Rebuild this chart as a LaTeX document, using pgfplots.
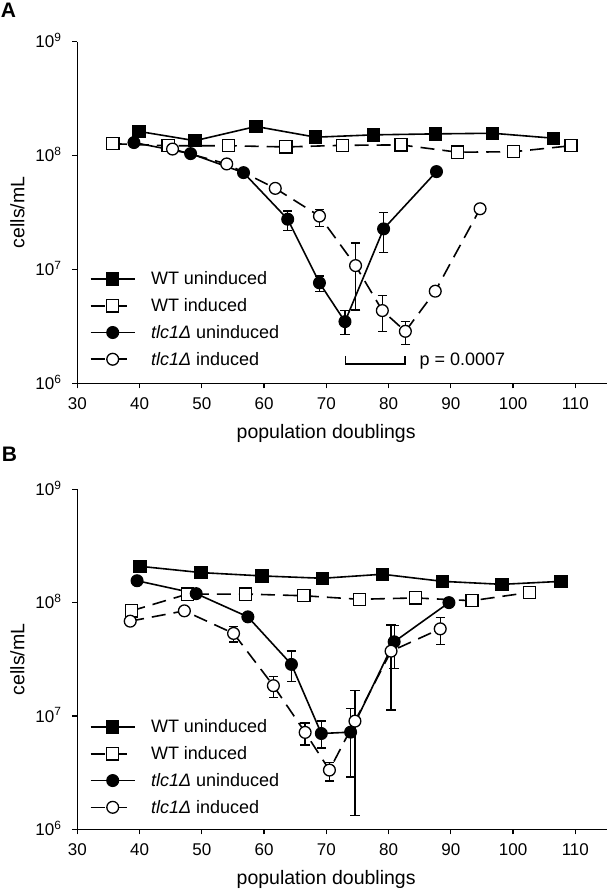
\documentclass[border=0pt]{standalone}
\usepackage{fontspec}
\setmainfont{Liberation Sans}
\usepackage{pgfplots}
\pgfplotsset{compat=1.18}
\newcommand\tickfont{\fontsize{17}{20}\selectfont}
\newcommand\labfont{\fontsize{19.5}{22}\selectfont}
\newcommand\legfont{\fontsize{18}{21}\selectfont}
\tikzset{
  wtu/.style={black, line width=1.6pt, solid, mark=square*, mark size=6.1pt, mark options={fill=black, solid, line width=1.2pt}},
  wti/.style={black, line width=1.6pt, dash pattern=on 14pt off 8pt, mark=square*, mark size=6.1pt, mark options={fill=white, solid, line width=1.3pt}},
  tlu/.style={black, line width=1.6pt, solid, mark=*, mark size=5.9pt, mark options={fill=black, solid, line width=1.2pt}},
  tli/.style={black, line width=1.6pt, dash pattern=on 14pt off 8pt, mark=*, mark size=5.9pt, mark options={fill=white, solid, line width=1.3pt}},
}
\begin{document}
\begin{tikzpicture}
\path[use as bounding box] (0pt,0pt) rectangle (607pt,891pt);
\node[anchor=north west, inner sep=0pt, font=\bfseries\fontsize{21}{24}\selectfont] at (0.7pt,887.7pt) {A};
\node[anchor=north west, inner sep=0pt, font=\bfseries\fontsize{21}{24}\selectfont] at (1.7pt,443.7pt) {B};

% ---------------- Panel A ----------------
\begin{axis}[at={(77.3pt,507.7pt)}, anchor=south west, height=341.6pt,
    scale only axis, width=529.7pt,
    ymode=log, log basis y=10,
    xmin=30, xmax=115.09, ymin=1e6, ymax=1e9,
    axis lines=left, axis line style={-, line width=1.2pt, black},
    xtick={30,40,...,110}, ytick={1e6,1e7,1e8,1e9},
    yticklabels={10\textsuperscript{6},10\textsuperscript{7},10\textsuperscript{8},10\textsuperscript{9}},
    yminorticks=false, xminorticks=false,
    tick align=outside, major tick length=5pt,
    tick style={line width=1.2pt, black},
    /pgf/number format/assume math mode=true,
    xticklabel style={font=\tickfont, anchor=base, inner sep=0pt, yshift=-21pt},
    yticklabel style={font=\tickfont, anchor=base east, inner sep=0pt, xshift=-10.6pt, yshift=-6.1pt},
    xlabel={population doublings},
    xlabel style={font=\labfont, at={(rel axis cs:0.4698,0)}, anchor=base, inner sep=0pt, yshift=-55.5pt},
    ylabel={cells/mL},
    ylabel style={font=\labfont, at={(rel axis cs:0,0.5)}, anchor=center, inner sep=0pt, rotate=0, xshift=0pt, yshift=59.9pt},
    clip=false,
    legend style={draw=none, fill=none, inner sep=0pt, outer sep=0pt, font=\legfont,
      nodes={inner sep=0pt}, row sep=12.2pt, column sep=15.5pt, anchor=north west,
      at={(rel axis cs:0.0238,0.3265)}},
    legend cell align=left,
    legend image code/.code={\draw[mark repeat=2,mark phase=2,#1] plot coordinates {(0pt,0pt) (22pt,0pt) (44pt,0pt)};},
  ]
\addplot[only marks, mark=none, forget plot, black,
  error bars/y dir=both, error bars/y explicit,
  error bars/error bar style={line width=1.3pt, black, solid},
  error bars/error mark options={black, line width=1.3pt, mark size=4.7pt, rotate=90}]
  table[x=x, y=y, y error plus=ep, y error minus=em] {
x y ep em
63.8 2.76e7 0.49e7 0.55e7
68.9 7.62e6 1.12e6 1.22e6
73.0 3.48e6 0.87e6 0.78e6
79.2 2.27e7 0.89e7 0.87e7
68.9 2.94e7 0.42e7 0.55e7
74.7 1.08e7 0.63e7 0.64e7
79.0 4.35e6 1.55e6 1.49e6
82.7 2.86e6 0.64e6 0.68e6
87.5 6.44e6 0.46e6 0.54e6
};
\addplot[wtu] table {
x y
39.9 1.63e8
48.9 1.35e8
58.7 1.80e8
68.3 1.45e8
77.6 1.52e8
87.5 1.55e8
96.7 1.57e8
106.5 1.42e8
};
\addlegendentry{WT uninduced}
\addplot[wti] table {
x y
35.7 1.27e8
44.6 1.22e8
54.3 1.22e8
63.5 1.19e8
72.6 1.23e8
82.0 1.24e8
91.1 1.07e8
100.1 1.08e8
109.3 1.22e8
};
\addlegendentry{WT induced}
\addplot[tlu] table {
x y
39.1 1.30e8
48.2 1.04e8
56.7 7.08e7
63.8 2.76e7
68.9 7.62e6
73.0 3.48e6
79.2 2.27e7
87.7 7.23e7
};
\addlegendentry{\textit{tlc1Δ} uninduced}
\addplot[tli] table {
x y
45.3 1.14e8
54.0 8.44e7
61.8 5.15e7
68.9 2.94e7
74.7 1.08e7
79.0 4.35e6
82.7 2.86e6
87.5 6.44e6
94.7 3.41e7
};
\addlegendentry{\textit{tlc1Δ} induced}
\addplot[black, line width=1.5pt, forget plot] coordinates {(73.05,1.74e6) (73.05,1.479e6) (82.63,1.479e6) (82.63,1.74e6)};
\node[anchor=base west, inner sep=0pt, font=\legfont] at (axis cs:84.97,1.43e6) {p = 0.0007};
\end{axis}

% ---------------- Panel B ----------------
\begin{axis}[at={(77.3pt,61.7pt)}, anchor=south west, height=340pt,
    scale only axis, width=529.7pt,
    ymode=log, log basis y=10,
    xmin=30, xmax=115.09, ymin=1e6, ymax=1e9,
    axis lines=left, axis line style={-, line width=1.2pt, black},
    xtick={30,40,...,110}, ytick={1e6,1e7,1e8,1e9},
    yticklabels={10\textsuperscript{6},10\textsuperscript{7},10\textsuperscript{8},10\textsuperscript{9}},
    yminorticks=false, xminorticks=false,
    tick align=outside, major tick length=5pt,
    tick style={line width=1.2pt, black},
    /pgf/number format/assume math mode=true,
    xticklabel style={font=\tickfont, anchor=base, inner sep=0pt, yshift=-21pt},
    yticklabel style={font=\tickfont, anchor=base east, inner sep=0pt, xshift=-10.6pt, yshift=-6.1pt},
    xlabel={population doublings},
    xlabel style={font=\labfont, at={(rel axis cs:0.4698,0)}, anchor=base, inner sep=0pt, yshift=-55.5pt},
    ylabel={cells/mL},
    ylabel style={font=\labfont, at={(rel axis cs:0,0.5)}, anchor=center, inner sep=0pt, rotate=0, xshift=0pt, yshift=59.9pt},
    clip=false,
    legend style={draw=none, fill=none, inner sep=0pt, outer sep=0pt, font=\legfont,
      nodes={inner sep=0pt}, row sep=12.2pt, column sep=15.5pt, anchor=north west,
      at={(rel axis cs:0.0238,0.322)}},
    legend cell align=left,
    legend image code/.code={\draw[mark repeat=2,mark phase=2,#1] plot coordinates {(0pt,0pt) (22pt,0pt) (44pt,0pt)};},
  ]
\addplot[only marks, mark=none, forget plot, black,
  error bars/y dir=both, error bars/y explicit,
  error bars/error bar style={line width=1.3pt, black, solid},
  error bars/error mark options={black, line width=1.3pt, mark size=4.7pt, rotate=90}]
  table[x=x, y=y, y error plus=ep, y error minus=em] {
x y ep em
64.4 2.85e7 0.90e7 0.85e7
69.2 7.0e6 2.0e6 1.8e6
73.9 7.2e6 4.5e6 4.3e6
80.9 4.51e7 1.8e7 1.9e7
55.1 5.35e7 0.85e7 0.85e7
61.5 1.85e7 0.37e7 0.39e7
66.6 7.16e6 1.5e6 1.6e6
70.5 3.33e6 0.54e6 0.66e6
74.6 9.0e6 7.7e6 7.67e6
80.4 3.73e7 2.6e7 2.6e7
88.3 5.87e7 1.5e7 1.57e7
};
\addplot[wtu] table {
x y
40.1 2.09e8
49.9 1.84e8
59.7 1.72e8
69.4 1.64e8
79.0 1.78e8
88.7 1.54e8
98.2 1.45e8
107.7 1.54e8
};
\addlegendentry{WT uninduced}
\addplot[wti] table {
x y
38.7 8.46e7
47.7 1.19e8
57.0 1.19e8
66.4 1.15e8
75.3 1.07e8
84.3 1.10e8
93.4 1.04e8
102.6 1.23e8
};
\addlegendentry{WT induced}
\addplot[tlu] table {
x y
39.6 1.56e8
49.1 1.20e8
57.4 7.49e7
64.4 2.85e7
69.2 7.0e6
73.9 7.2e6
80.9 4.51e7
89.7 1.0e8
};
\addlegendentry{\textit{tlc1Δ} uninduced}
\addplot[tli] table {
x y
38.5 6.86e7
47.2 8.46e7
55.1 5.35e7
61.5 1.85e7
66.6 7.16e6
70.5 3.33e6
74.6 9.0e6
80.4 3.73e7
88.3 5.87e7
};
\addlegendentry{\textit{tlc1Δ} induced}
\end{axis}
\end{tikzpicture}
\end{document}
